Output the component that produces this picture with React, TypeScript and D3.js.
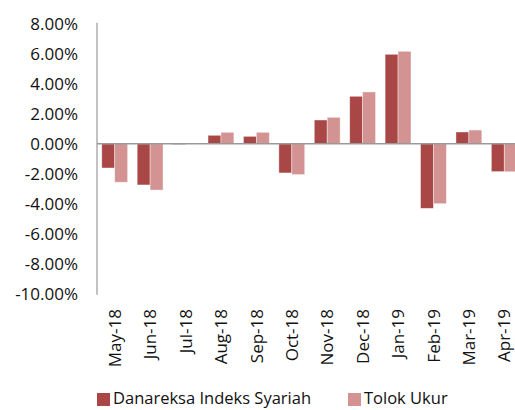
import React from "react";
import * as d3 from "d3";

const categories = ["May-18","Jun-18","Jul-18","Aug-18","Sep-18","Oct-18","Nov-18","Dec-18","Jan-19","Feb-19","Mar-19","Apr-19"];
const seriesNames = ["Danareksa Indeks Syariah", "Tolok Ukur"];
const danareksa = [-1.62, -2.75, -0.05, 0.56, 0.49, -1.95, 1.58, 3.16, 5.96, -4.31, 0.78, -1.86];
const tolokUkur = [-2.57, -3.09, -0.02, 0.76, 0.76, -2.06, 1.76, 3.45, 6.16, -4.0, 0.91, -1.87];
const yTicks = [8, 6, 4, 2, 0, -2, -4, -6, -8, -10];
const colors = ["#A84745", "#D39392"];

const W = 515, H = 410;
const left = 97, right = 522, top = 23.7, bottom = 293.7;
const font = "'Open Sans', sans-serif";

export default function App() {
  const x = d3.scaleBand<string>().domain(categories).range([left, right]).paddingInner(0.27).paddingOuter(0.135);
  const x1 = d3.scaleBand<number>().domain([0, 1]).range([0, x.bandwidth()]);
  const y = d3.scaleLinear().domain([-10, 8]).range([bottom, top]);
  const series = [danareksa, tolokUkur];
  return (
    <svg width={W} height={H} style={{ position: "absolute", left: 0, top: 0, background: "#fff" }}>
      {yTicks.map((t) => (
        <text key={t} x={78} y={y(t)} dy="0.36em" textAnchor="end" fontFamily={font} fontSize={17} fill="#111">
          {t.toFixed(2) + "%"}
        </text>
      ))}
      {series.map((vals, si) =>
        vals.map((v, i) => (
          <rect
            key={si + "-" + i}
            x={(x(categories[i]) as number) + (x1(si) as number)}
            y={y(Math.max(0, v))}
            width={x1.bandwidth()}
            height={Math.abs(y(v) - y(0))}
            fill={colors[si]}
            stroke="#ffffff"
            strokeOpacity={0.5}
            strokeWidth={0.8}
          />
        ))
      )}
      <line x1={left} x2={right} y1={y(0)} y2={y(0)} stroke="#999" strokeWidth={1.5} />
      <line x1={left} x2={left} y1={top - 1} y2={bottom + 1} stroke="#999" strokeWidth={1.2} />
      {categories.map((c) => {
        const cx = (x(c) as number) + x.bandwidth() / 2;
        return (
          <text key={c} transform={`translate(${cx},309) rotate(-90)`} dy="0.36em" textAnchor="end" fontFamily={font} fontSize={17} fill="#111">
            {c}
          </text>
        );
      })}
      {seriesNames.map((n, i) => {
        const lx = i === 0 ? 97 : 348;
        return (
          <g key={n}>
            <rect x={lx} y={393} width={13} height={13} fill={colors[i]} />
            <text x={lx + 16} y={404} fontFamily={font} fontSize={16.5} fill="#111">{n}</text>
          </g>
        );
      })}
    </svg>
  );
}
